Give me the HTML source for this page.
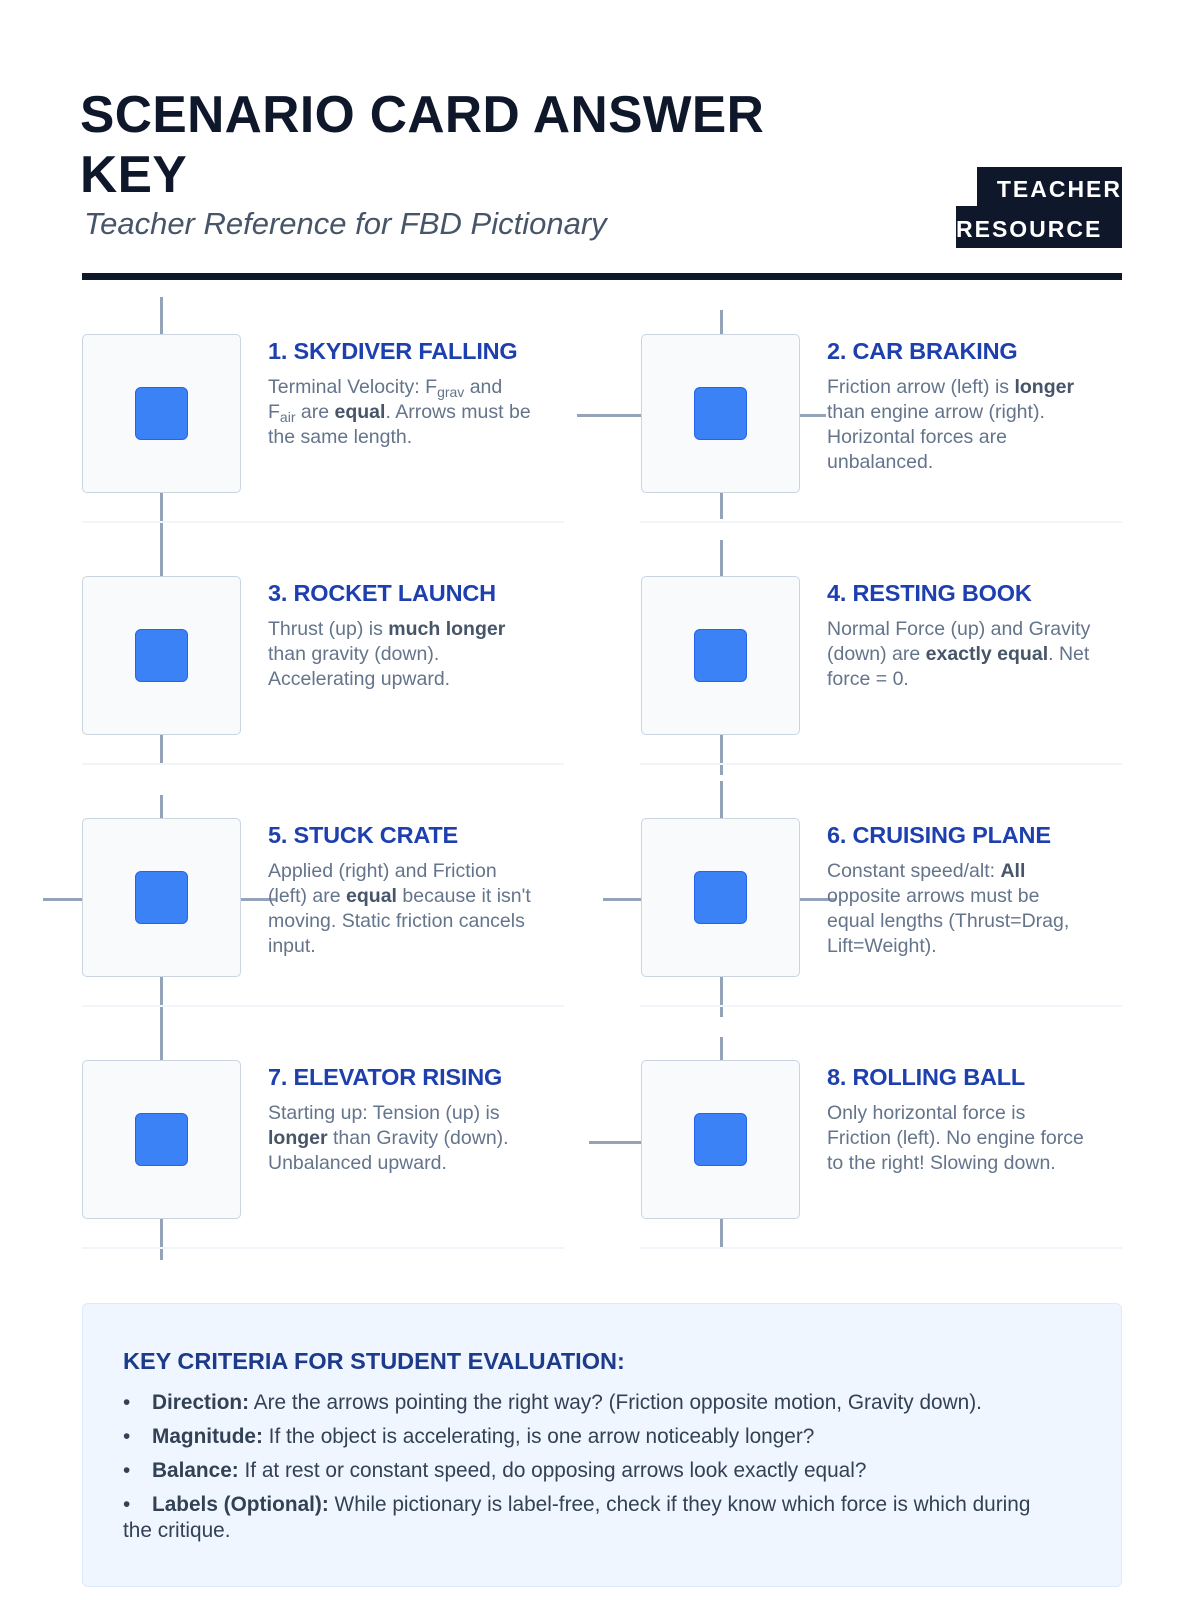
<!DOCTYPE html>
<html><head><meta charset="utf-8"><style>
*{margin:0;padding:0;box-sizing:border-box}
body{width:1200px;height:1600px;background:#fff;position:relative;font-family:"Liberation Sans",sans-serif;overflow:hidden}
.a{position:absolute}
h1{position:absolute;left:80px;top:84px;font-size:51.5px;line-height:60px;font-weight:900;color:#0f172a;letter-spacing:0.4px;width:800px}
.sub{left:84px;top:206px;font-size:31px;font-style:italic;color:#475569}
.rule{left:82px;top:273px;width:1040px;height:7px;background:#0f172a}
.box{width:159px;height:159px;background:#f8fafc;border:1.5px solid #cbd5e1;border-radius:5px}
.sq{width:53px;height:53px;background:#3b82f6;border:1.5px solid #2563eb;border-radius:6px;left:52px;top:52px}
.v{width:2.5px;background:#94a3b8}
.h{height:2.5px;background:#94a3b8}
.sep{height:2px;background:#f1f5f9;width:482px}
.t{font-size:23.5px;font-weight:bold;color:#1e40af;letter-spacing:-0.2px}
.d{font-size:19.5px;line-height:25px;color:#64748b;width:300px}
.d b{color:#475569}
.d sub{font-size:14px;line-height:0;vertical-align:-4px}
.crit{left:82px;top:1303px;width:1040px;height:284px;background:#eff6ff;border:1.5px solid #dbeafe;border-radius:6px}
.crit h2{position:absolute;left:40px;top:44px;font-size:23.5px;color:#1e3a8a;font-weight:bold}
.crit ul{position:absolute;left:40px;top:86px;width:960px;list-style:none;font-size:20.8px;color:#334155;line-height:26px}
.crit li{margin-bottom:8px;padding-left:29px;position:relative}
.crit li:before{content:"•";position:absolute;left:0}
.crit li.w{padding-left:0;text-indent:29px}
.crit li.w:before{left:-29px}
</style></head><body>
<h1>SCENARIO CARD ANSWER<br>KEY</h1>
<div class="a sub">Teacher Reference for FBD Pictionary</div>
<div class="a" style="left:956px;top:167px;width:166px;height:81px;background:#0f172a"></div>
<div class="a" style="left:956px;top:167px;width:21px;height:39px;background:#fff"></div>
<div class="a" style="left:980px;top:176px;width:142px;text-align:right;color:#fff;font-weight:bold;font-size:23px;letter-spacing:2px">TEACHER</div>
<div class="a" style="left:956px;top:216px;color:#fff;font-weight:bold;font-size:23px;letter-spacing:2px">RESOURCE</div>
<div class="a rule"></div>

<div class="a v" style="left:160px;top:297px;height:37px"></div>
<div class="a v" style="left:160px;top:493px;height:83px"></div>
<div class="a v" style="left:720px;top:310px;height:24px"></div>
<div class="a h" style="left:577px;top:414px;width:64px"></div>
<div class="a h" style="left:800px;top:414px;width:26px"></div>
<div class="a v" style="left:720px;top:493px;height:26px"></div>
<div class="a v" style="left:720px;top:540px;height:36px"></div>
<div class="a v" style="left:160px;top:735px;height:28px"></div>
<div class="a v" style="left:720px;top:735px;height:40px"></div>
<div class="a v" style="left:720px;top:781px;height:37px"></div>
<div class="a v" style="left:160px;top:795px;height:23px"></div>
<div class="a h" style="left:43px;top:898px;width:39px"></div>
<div class="a h" style="left:241px;top:898px;width:35px"></div>
<div class="a v" style="left:160px;top:977px;height:83px"></div>
<div class="a h" style="left:603px;top:898px;width:38px"></div>
<div class="a h" style="left:800px;top:898px;width:36px"></div>
<div class="a v" style="left:720px;top:977px;height:40px"></div>
<div class="a v" style="left:720px;top:1037px;height:23px"></div>
<div class="a h" style="left:589px;top:1141px;width:52px"></div>
<div class="a v" style="left:720px;top:1219px;height:28px"></div>
<div class="a v" style="left:160px;top:1219px;height:41px"></div>

<div class="a sep" style="left:82px;top:521px"></div><div class="a sep" style="left:640px;top:521px"></div>
<div class="a sep" style="left:82px;top:763px"></div><div class="a sep" style="left:640px;top:763px"></div>
<div class="a sep" style="left:82px;top:1005px"></div><div class="a sep" style="left:640px;top:1005px"></div>
<div class="a sep" style="left:82px;top:1247px"></div><div class="a sep" style="left:640px;top:1247px"></div>

<div class="a box" style="left:82px;top:334px"><div class="a sq"></div></div>
<div class="a box" style="left:641px;top:334px"><div class="a sq"></div></div>
<div class="a box" style="left:82px;top:576px"><div class="a sq"></div></div>
<div class="a box" style="left:641px;top:576px"><div class="a sq"></div></div>
<div class="a box" style="left:82px;top:818px"><div class="a sq"></div></div>
<div class="a box" style="left:641px;top:818px"><div class="a sq"></div></div>
<div class="a box" style="left:82px;top:1060px"><div class="a sq"></div></div>
<div class="a box" style="left:641px;top:1060px"><div class="a sq"></div></div>

<div class="a t" style="left:268px;top:338px">1. SKYDIVER FALLING</div>
<div class="a d" style="left:268px;top:375px">Terminal Velocity: F<sub>grav</sub> and<br>F<sub>air</sub> are <b>equal</b>. Arrows must be<br>the same length.</div>
<div class="a t" style="left:827px;top:338px">2. CAR BRAKING</div>
<div class="a d" style="left:827px;top:375px">Friction arrow (left) is <b>longer</b><br>than engine arrow (right).<br>Horizontal forces are<br>unbalanced.</div>
<div class="a t" style="left:268px;top:580px">3. ROCKET LAUNCH</div>
<div class="a d" style="left:268px;top:617px">Thrust (up) is <b>much longer</b><br>than gravity (down).<br>Accelerating upward.</div>
<div class="a t" style="left:827px;top:580px">4. RESTING BOOK</div>
<div class="a d" style="left:827px;top:617px">Normal Force (up) and Gravity<br>(down) are <b>exactly equal</b>. Net<br>force = 0.</div>
<div class="a t" style="left:268px;top:822px">5. STUCK CRATE</div>
<div class="a d" style="left:268px;top:859px">Applied (right) and Friction<br>(left) are <b>equal</b> because it isn't<br>moving. Static friction cancels<br>input.</div>
<div class="a t" style="left:827px;top:822px">6. CRUISING PLANE</div>
<div class="a d" style="left:827px;top:859px">Constant speed/alt: <b>All</b><br>opposite arrows must be<br>equal lengths (Thrust=Drag,<br>Lift=Weight).</div>
<div class="a t" style="left:268px;top:1064px">7. ELEVATOR RISING</div>
<div class="a d" style="left:268px;top:1101px">Starting up: Tension (up) is<br><b>longer</b> than Gravity (down).<br>Unbalanced upward.</div>
<div class="a t" style="left:827px;top:1064px">8. ROLLING BALL</div>
<div class="a d" style="left:827px;top:1101px">Only horizontal force is<br>Friction (left). No engine force<br>to the right! Slowing down.</div>

<div class="a crit">
<h2>KEY CRITERIA FOR STUDENT EVALUATION:</h2>
<ul>
<li><b>Direction:</b> Are the arrows pointing the right way? (Friction opposite motion, Gravity down).</li>
<li><b>Magnitude:</b> If the object is accelerating, is one arrow noticeably longer?</li>
<li><b>Balance:</b> If at rest or constant speed, do opposing arrows look exactly equal?</li>
<li class="w"><b>Labels (Optional):</b> While pictionary is label-free, check if they know which force is which during<br>the critique.</li>
</ul>
</div>
</body></html>
